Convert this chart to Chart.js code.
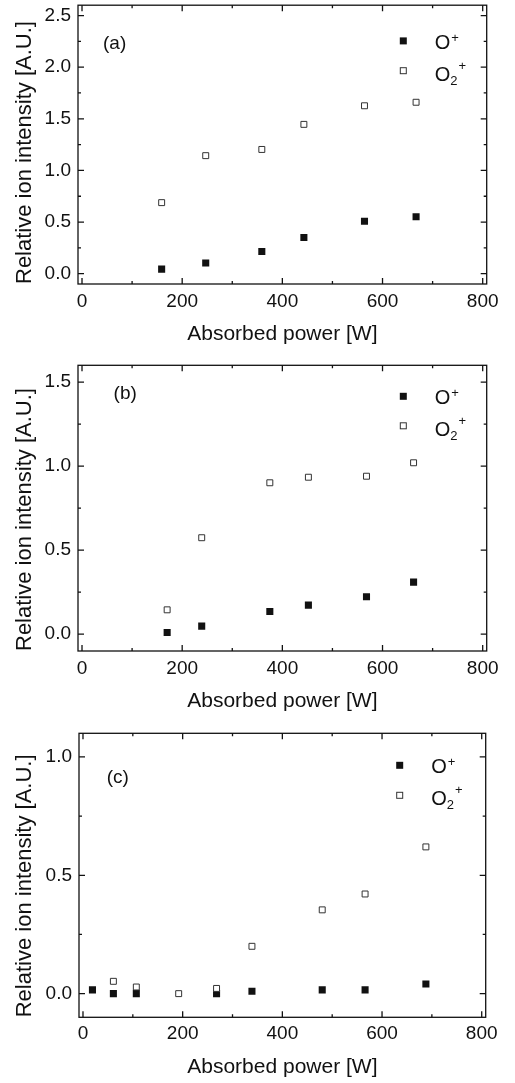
<!DOCTYPE html>
<html>
<head>
<meta charset="utf-8">
<script src="https://cdn.jsdelivr.net/npm/chart.js@4.4.1/dist/chart.umd.min.js"></script>
<style>
  html, body { margin: 0; padding: 0; background: #fff; }
  body { width: 515px; height: 1083px; position: relative; overflow: hidden; }
  canvas { position: absolute; left: 0; }
</style>
</head>
<body>
<canvas id="chartA" width="515" height="350" style="top:0px"></canvas>
<canvas id="chartB" width="515" height="367" style="top:350px"></canvas>
<canvas id="chartC" width="515" height="366" style="top:717px"></canvas>
<script>
// tick values
const xTickValues = [0, 200, 400, 600, 800];
const yTickValuesA = [0, 0.5, 1.0, 1.5, 2.0, 2.5];
const yTickValuesB = [0, 0.5, 1.0, 1.5];
const yTickValuesC = [0, 0.5, 1.0];

// panel (a)
const powerA = [159, 247, 359, 443, 564, 667];
const oPlusA = [0.044, 0.104, 0.215, 0.35, 0.508, 0.552];
const o2PlusA = [0.688, 1.143, 1.203, 1.446, 1.626, 1.66];

// panel (b)
const powerB = [170, 239, 375, 452, 568, 662];
const oPlusB = [0.01, 0.048, 0.135, 0.173, 0.223, 0.31];
const o2PlusB = [0.145, 0.574, 0.901, 0.934, 0.94, 1.02];

// panel (c)
const powerOPlusC = [19, 61, 107, 268, 339, 480, 566, 688];
const oPlusC = [0.016, 0, 0, 0, 0.01, 0.016, 0.016, 0.041];
const powerO2PlusC = [61, 107, 192, 268, 339, 480, 566, 688];
const o2PlusC = [0.052, 0.028, 0.0, 0.022, 0.2, 0.354, 0.421, 0.62];

const INK = '#111';
const FONT = '"Liberation Sans", Arial, sans-serif';
Chart.defaults.font.family = FONT;
Chart.defaults.color = INK;

function zeroPad(s) {
    s.paddingTop = 0; s.paddingBottom = 0;
    s.paddingLeft = 0; s.paddingRight = 0;
}

// box round the plot with inward ticks on all four sides
const framePlugin = {
    id: 'frame',
    afterDraw(chart) {
        const { ctx, chartArea: a, scales: { x, y } } = chart;
        const mids = vals => vals.slice(1).map((v, i) => (v + vals[i]) / 2);
        const xs = x.ticks.map(t => t.value);
        const ys = y.ticks.map(t => t.value);
        ctx.save();
        ctx.strokeStyle = INK;
        ctx.lineWidth = 1.3;
        ctx.strokeRect(a.left, a.top, a.right - a.left, a.bottom - a.top);
        ctx.beginPath();
        const xMark = (v, len) => {
            const p = x.getPixelForValue(v);
            ctx.moveTo(p, a.bottom); ctx.lineTo(p, a.bottom - len);
            ctx.moveTo(p, a.top); ctx.lineTo(p, a.top + len);
        };
        const yMark = (v, len) => {
            const p = y.getPixelForValue(v);
            ctx.moveTo(a.left, p); ctx.lineTo(a.left + len, p);
            ctx.moveTo(a.right, p); ctx.lineTo(a.right - len, p);
        };
        xs.forEach(v => xMark(v, 6));
        mids(xs).forEach(v => xMark(v, 3));
        ys.forEach(v => yMark(v, 6));
        mids(ys).forEach(v => yMark(v, 3));
        ctx.stroke();
        ctx.restore();
    }
};

// panel tag and the legend with sub/superscripts
function decoPlugin(cfg) {
    return {
        id: 'deco',
        afterDraw(chart) {
            const { ctx, chartArea: a } = chart;
            ctx.save();
            ctx.fillStyle = INK;
            ctx.textBaseline = 'alphabetic';
            ctx.textAlign = 'left';
            ctx.font = '19px ' + FONT;
            ctx.fillText(cfg.tag, a.left + cfg.tagX, a.top + cfg.tagY);

            const mx = a.right + cfg.legX;
            const y1 = a.top + cfg.leg1;
            const y2 = a.top + cfg.leg2;
            ctx.fillRect(mx - 3.5, y1 - 3.5, 7, 7);
            ctx.fillStyle = '#fff';
            ctx.strokeStyle = '#333';
            ctx.lineWidth = 1;
            ctx.fillRect(mx - 3, y2 - 3, 6, 6);
            ctx.strokeRect(mx - 3, y2 - 3, 6, 6);

            ctx.fillStyle = INK;
            const tx = mx + 31.5;
            ctx.font = '20px ' + FONT;
            const oW = ctx.measureText('O').width;
            ctx.fillText('O', tx, y1 + 8);
            ctx.fillText('O', tx, y2 + 10);
            ctx.font = '13px ' + FONT;
            ctx.fillText('+', tx + oW + 1, y1 + 1);
            ctx.fillText('2', tx + oW, y2 + 14);
            const twoW = ctx.measureText('2').width;
            ctx.fillText('+', tx + oW + twoW + 1, y2 - 1);
            ctx.restore();
        }
    };
}

function makePanel(id, cfg) {
    const toPts = (xs, ys) => xs.map((x, i) => ({ x: x, y: ys[i] }));
    return new Chart(document.getElementById(id), {
        type: 'scatter',
        data: {
            datasets: [
                {
                    label: 'O+',
                    data: toPts(cfg.xO, cfg.yO),
                    pointStyle: 'rect',
                    pointRadius: 5,
                    backgroundColor: INK,
                    borderWidth: 0,
                    order: 1
                },
                {
                    label: 'O2+',
                    data: toPts(cfg.xO2, cfg.yO2),
                    pointStyle: 'rect',
                    pointRadius: 4.2,
                    backgroundColor: '#fff',
                    borderColor: '#333',
                    borderWidth: 1,
                    order: 0
                }
            ]
        },
        options: {
            responsive: false,
            animation: false,
            events: [],
            layout: { padding: { top: cfg.top, right: cfg.right, left: 0, bottom: 0 } },
            plugins: { legend: { display: false }, tooltip: { enabled: false } },
            scales: {
                x: {
                    type: 'linear',
                    min: -8,
                    max: 808,
                    grid: { display: false, drawTicks: false, tickLength: 0 },
                    border: { display: false },
                    ticks: { padding: cfg.xPad, color: INK, font: { size: 19 }, maxRotation: 0 },
                    afterBuildTicks: s => { s.ticks = xTickValues.map(v => ({ value: v })); },
                    afterFit: s => { s.height = cfg.axisH; zeroPad(s); },
                    title: {
                        display: true,
                        text: 'Absorbed power [W]',
                        color: INK,
                        font: { size: 21 },
                        padding: { top: 0, bottom: 3 }
                    }
                },
                y: {
                    type: 'linear',
                    min: -0.1,
                    max: cfg.yMax,
                    grid: { display: false, drawTicks: false, tickLength: 0 },
                    border: { display: false },
                    ticks: {
                        padding: 7,
                        color: INK,
                        font: { size: 19 },
                        callback: v => v.toFixed(1)
                    },
                    afterBuildTicks: s => { s.ticks = cfg.yTicks.map(v => ({ value: v })); },
                    afterFit: s => { s.width = cfg.axisW; zeroPad(s); },
                    title: {
                        display: true,
                        text: 'Relative ion intensity [A.U.]',
                        align: 'start',
                        color: INK,
                        font: { size: 22 },
                        padding: { top: 12, bottom: 0 }
                    }
                }
            }
        },
        plugins: [framePlugin, decoPlugin(cfg)]
    });
}

makePanel('chartA', {
    xO: powerA, yO: oPlusA, xO2: powerA, yO2: o2PlusA,
    yMax: 2.6, yTicks: yTickValuesA,
    top: 0, right: 28.3, axisH: 66, axisW: 78, xPad: 6,
    tag: '(a)', tagX: 25, tagY: 43.3,
    legX: -83.4, leg1: 35.7, leg2: 65.5
});

makePanel('chartB', {
    xO: powerB, yO: oPlusB, xO2: powerB, yO2: o2PlusB,
    yMax: 1.6, yTicks: yTickValuesB,
    top: 15.3, right: 28.3, axisH: 66, axisW: 78, xPad: 6,
    tag: '(b)', tagX: 35.6, tagY: 34,
    legX: -83.4, leg1: 31, leg2: 60.5
});

makePanel('chartC', {
    xO: powerOPlusC, yO: oPlusC, xO2: powerO2PlusC, yO2: o2PlusC,
    yMax: 1.1, yTicks: yTickValuesC,
    top: 16.3, right: 29.3, axisH: 65.7, axisW: 79, xPad: 5,
    tag: '(c)', tagX: 27.7, tagY: 50,
    legX: -86, leg1: 32, leg2: 62
});
</script>
</body>
</html>
